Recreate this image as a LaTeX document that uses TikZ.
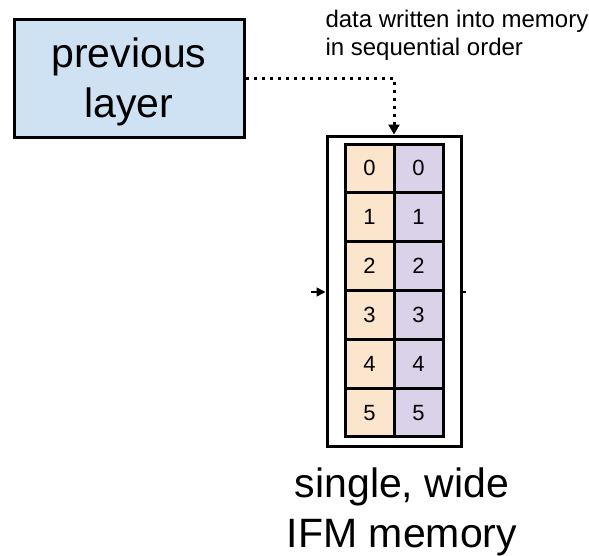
\documentclass[tikz,border=0pt]{standalone}
\usepackage{fontspec}
\setmainfont{Liberation Sans}
\usetikzlibrary{arrows.meta}
\definecolor{layerblue}{HTML}{CFE2F3}
\definecolor{cellpeach}{HTML}{FCE5CD}
\definecolor{celllilac}{HTML}{D9D2E9}
\begin{document}
\begin{tikzpicture}[x=1pt,y=-1pt,
  layerbox/.style={draw, fill=layerblue, line width=3pt, minimum width=230pt,
    minimum height=118pt, inner sep=0pt, align=center, text depth=0pt,
    font=\fontsize{41}{50}\selectfont},
  membox/.style={draw, fill=white, line width=3pt, minimum width=134pt,
    minimum height=310pt, inner sep=0pt},
  cell/.style={draw, line width=3pt, minimum width=49pt, minimum height=48.83pt,
    inner sep=0pt, font=\fontsize{22}{26}\selectfont},
  feed/.style={line width=3pt, dash pattern=on 3pt off 5pt,
    -{Triangle[length=10pt,width=11pt]}},
  port/.style={line width=1.5pt},
  note/.style={align=left, font=\fontsize{24}{28}\selectfont},
  caption/.style={align=center, font=\fontsize{41}{50}\selectfont}]
\useasboundingbox (0,0) rectangle (589,555);

% source block
\node[layerbox] (prev) at (129,78) {previous\\layer};

% memory block with two columns of six words
\node[membox] (mem) at (394,291) {};
\foreach \i in {0,...,5}{
  \node[cell, fill=cellpeach] (a\i) at (369.5,{144+48.83*(\i+0.5)}) {\i};
  \node[cell, fill=celllilac] (b\i) at (418.5,{144+48.83*(\i+0.5)}) {\i};
}

% write path
\draw[feed] (prev.east) -| (mem.north);

% side ports
\coordinate (inL) at (311,292);
\draw[port, -{Triangle[length=9pt,width=9pt]}] (inL) -- (mem.west |- inL);
\coordinate (outR) at (466,292);
\draw[port] (mem.east |- outR) -- (outR);

% labels (base anchor sits on the last line)
\node[note, anchor=base west] (lbl) at (322,55) {data written into memory\\in sequential order};
\node[caption, anchor=base] (cap) at (402,547) {single, wide\\IFM memory};
\end{tikzpicture}
\end{document}
